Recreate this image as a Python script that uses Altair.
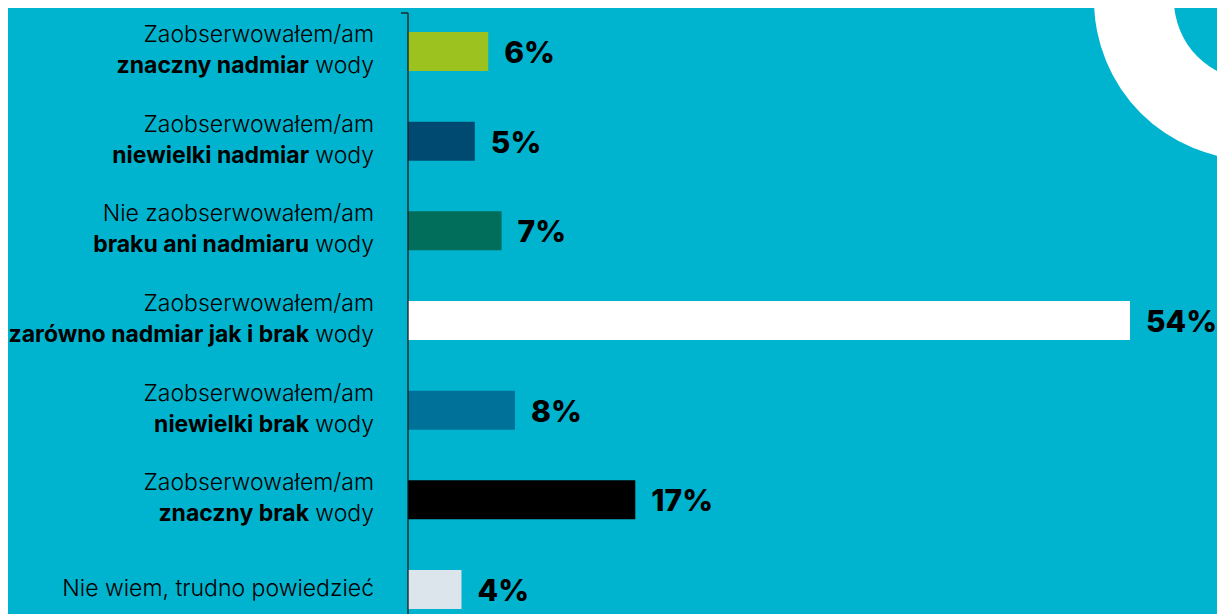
import altair as alt
import pandas as pd

# --- data ---
keys = ["k0", "k1", "k2", "k3", "k4", "k5", "k6"]
line1 = ["Zaobserwowałem/am", "Zaobserwowałem/am", "Nie zaobserwowałem/am",
         "Zaobserwowałem/am", "Zaobserwowałem/am", "Zaobserwowałem/am",
         "Nie wiem, trudno powiedzieć"]
bold_part = ["znaczny nadmiar", "niewielki nadmiar", "braku ani nadmiaru",
             "zarówno nadmiar jak i brak", "niewielki brak", "znaczny brak", ""]
tail_part = ["wody", "wody", "wody", "wody", "wody", "wody", ""]
values = [6, 5, 7, 54, 8, 17, 4]
labels = ["6%", "5%", "7%", "54%", "8%", "17%", "4%"]
bar_colors = ["#9BC21F", "#004A72", "#006E5A", "#FFFFFF", "#00729A", "#000000", "#DCE4EC"]

df = pd.DataFrame({
    "key": keys, "line1": line1, "bold": bold_part, "tail": tail_part,
    "val": values, "lab": labels, "col": bar_colors,
    "two": [1, 1, 1, 1, 1, 1, 0],
})

BG = "#00B4CF"
FONT = "Inter"
FS = 23

yscale = alt.Scale(domain=keys, paddingInner=0.565, paddingOuter=0)
xscale = alt.Scale(domain=[0, 54], nice=False, zero=True)
Y = alt.Y("key:N", scale=yscale, axis=None)

base = alt.Chart(df)

bars = base.mark_bar(cornerRadius=0).encode(
    x=alt.X("val:Q", scale=xscale, axis=None),
    y=Y,
    color=alt.Color("col:N", scale=None, legend=None),
)

pct = base.mark_text(align="left", baseline="alphabetic", dx=16, dy=11.5,
                     font=FONT, fontSize=30, fontWeight=800, color="#000000").encode(
    x=alt.X("val:Q", scale=xscale, axis=None),
    y=Y,
    text="lab:N",
)

two = base.transform_filter("datum.two == 1")
one = base.transform_filter("datum.two == 0")

l1 = two.mark_text(align="right", baseline="alphabetic", dy=-9.5,
                   font=FONT, fontSize=FS, fontWeight=300, color="#000000").encode(
    x=alt.value(-34), y=Y, text="line1:N")
l2b = two.mark_text(align="right", baseline="alphabetic", dy=21.5,
                    font=FONT, fontSize=FS, fontWeight="bold", color="#000000").encode(
    x=alt.value(-99), y=Y, text="bold:N")
l2t = two.mark_text(align="right", baseline="alphabetic", dy=21.5,
                    font=FONT, fontSize=FS, fontWeight=300, color="#000000").encode(
    x=alt.value(-34), y=Y, text="tail:N")
single = one.mark_text(align="right", baseline="alphabetic", dy=7,
                       font=FONT, fontSize=FS, fontWeight=300, color="#000000").encode(
    x=alt.value(-34), y=Y, text="line1:N")

one_row = alt.Data(values=[{"a": 0}])
ring = alt.Chart(one_row).mark_arc(radius=160, radius2=80, theta=0, theta2=6.2832,
                                   color="#FFFFFF").encode(
    x=alt.value(846), y=alt.value(-32))
vline = alt.Chart(one_row).mark_rule(color="#1A1A1A", strokeWidth=1.3).encode(
    x=alt.value(0), y=alt.value(-19), y2=alt.value(600))
vtick = alt.Chart(one_row).mark_rule(color="#1A1A1A", strokeWidth=1.3).encode(
    x=alt.value(-7), x2=alt.value(0), y=alt.value(-19))

chart = alt.layer(ring, bars, vline, vtick, pct, l1, l2b, l2t, single).properties(
    width=722, height=577,
    padding={"left": 400, "top": 24, "right": 87, "bottom": 5},
    autosize=alt.AutoSizeParams(type="none"),
    background=BG,
).configure_view(stroke=None)

chart.save("out.html", embed_options={"renderer": "svg", "actions": False})
